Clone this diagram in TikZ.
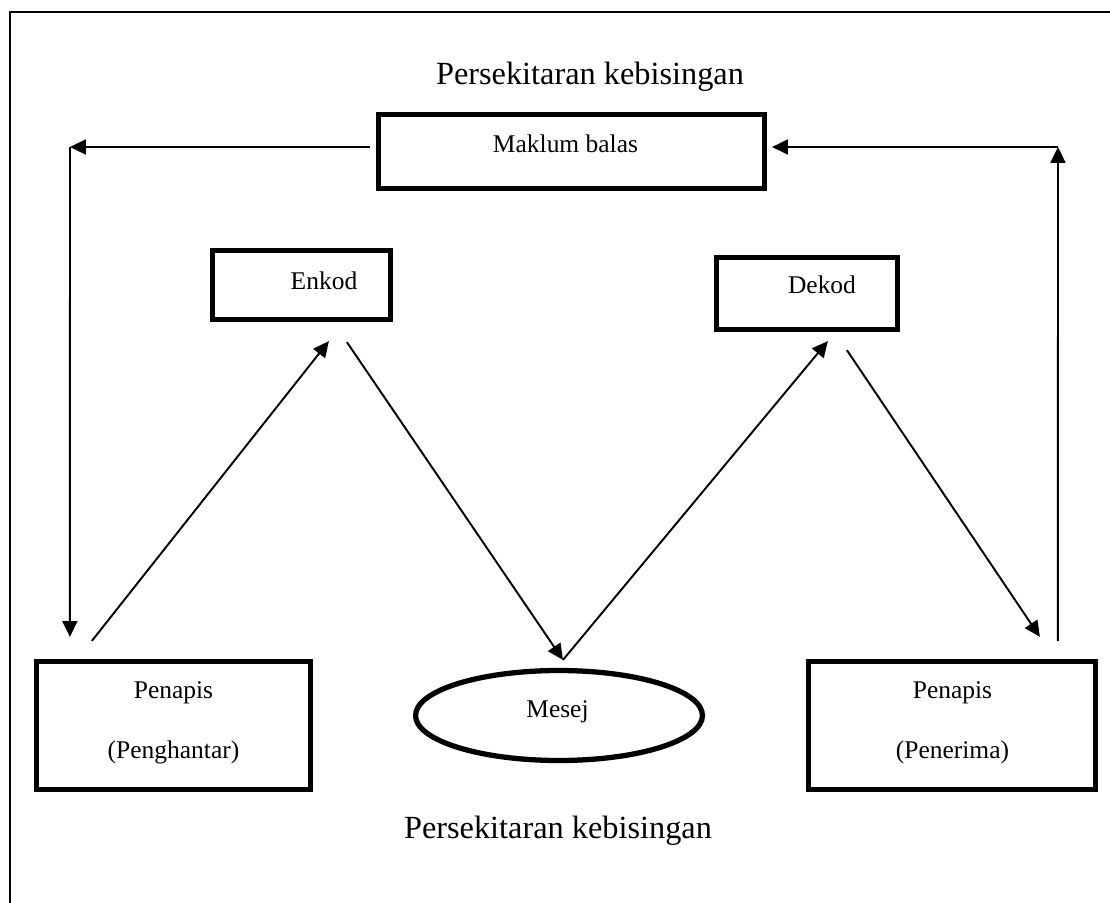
\documentclass[tikz,border=0pt]{standalone}
\usepackage{fontspec}
\setmainfont{Liberation Serif}
\usetikzlibrary{arrows.meta,calc,shapes.geometric}
\tikzset{
  kotak/.style={draw, line width=3pt, rectangle, inner sep=0pt},
  bujur/.style={draw, line width=3pt, ellipse, inner sep=0pt},
  teks/.style={anchor=base, inner sep=0pt, font=\fontsize{14.5}{17}\selectfont},
  tajuk/.style={anchor=base, inner sep=0pt, font=\fontsize{18.4}{22}\selectfont},
  anak/.style={line width=1.1pt, -{Triangle[length=9pt,width=8.5pt]}},
}

\begin{document}
\begin{tikzpicture}[x=0.02cm, y=-0.02cm]
	\useasboundingbox (0,0) rectangle (1110,903);
	% bingkai luar
	\draw[line width=1pt] (10,903) -- (10,12) -- (1110,12);
	
	% kotak-kotak
	\node[kotak, minimum width=7.72cm, minimum height=1.48cm] (maklum) at (571.5,151.5) {};
	\node[kotak, minimum width=3.56cm, minimum height=1.38cm] (enkod) at (301.5,285) {};
	\node[kotak, minimum width=3.62cm, minimum height=1.44cm] (dekod) at (807,293.5) {};
	\node[kotak, minimum width=5.48cm, minimum height=2.56cm] (kirim) at (173.5,725.5) {};
	\node[kotak, minimum width=5.74cm, minimum height=2.56cm] (terima) at (952,725.5) {};
	\node[bujur, minimum width=5.74cm, minimum height=1.80cm] (mesej) at (559,715.5) {};
	
	% teks
	\node[tajuk] (atas) at (590,84) {Persekitaran kebisingan};
	\node[tajuk] (bawah) at (558,838) {Persekitaran kebisingan};
	\node[teks] (tmaklum) at (565.5,152) {Maklum balas};
	\node[teks] (tenkod) at (324,289) {Enkod};
	\node[teks] (tdekod) at (822,293) {Dekod};
	\node[teks] (tkirim1) at (173.5,698) {Penapis};
	\node[teks] (tkirim2) at (173.5,758) {(Penghantar)};
	\node[teks] (tterima1) at (952.5,698) {Penapis};
	\node[teks] (tterima2) at (952.5,758) {(Penerima)};
	\node[teks] (tmesej) at (557.5,717) {Mesej};
	
	% sudut maklum balas
	\coordinate (kiri) at (70,147);
	\coordinate (kanan) at (1058,147);
	\coordinate (mtop) at ($(mesej.north)+(4,-8)$);
	
	% anak panah
	\draw[anak] ($(maklum.west)+(-6,-4.5)$) -- (kiri);
	\draw[anak] (kiri) -- ($(kirim.north west)+(36,-22)$);
	\draw[anak] ($(kirim.north west)+(58,-18)$) -- ($(enkod.south west)+(119,19)$);
	\draw[anak] ($(enkod.south west)+(137,20)$) -- (mtop);
	\draw[anak] (mtop) -- ($(dekod.south west)+(114,9)$);
	\draw[anak] ($(dekod.south west)+(133,18)$) -- ($(terima.north west)+(234,-22)$);
	\draw[anak] ($(terima.north west)+(252,-18)$) -- (kanan);
	\draw[anak] (kanan) -- ($(maklum.east)+(5,-4.5)$);
	
\end{tikzpicture}
\end{document}
